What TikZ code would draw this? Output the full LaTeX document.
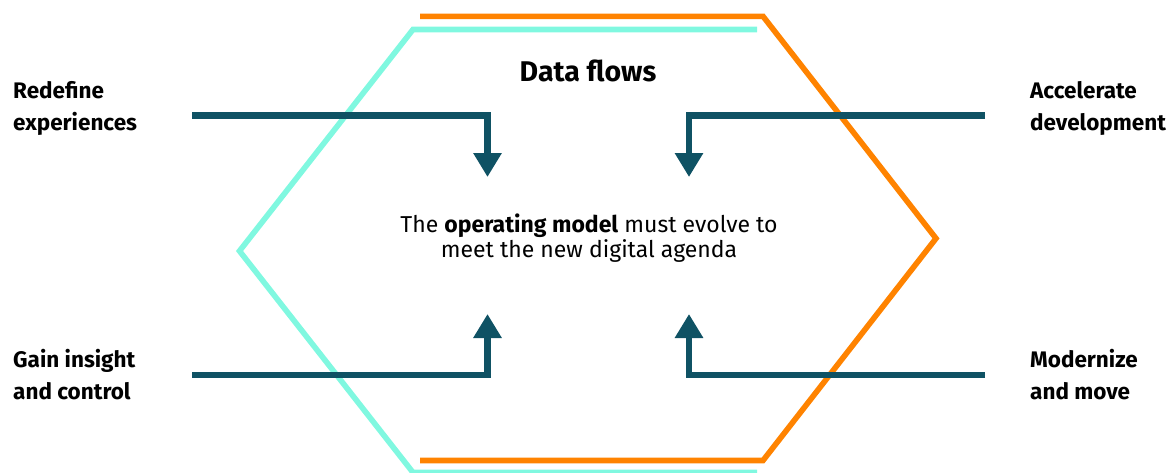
\documentclass[tikz,border=0pt]{standalone}
\usepackage{fontspec}
\setmainfont{Fira Sans}
\usetikzlibrary{arrows.meta}
\definecolor{hpeorange}{HTML}{FF8300}
\definecolor{hpeaqua}{HTML}{80F8E0}
\definecolor{flowteal}{HTML}{0F5264}
\tikzset{
  hexline/.style={line width=5.6pt, line join=miter},
  flowarrow/.style={draw=flowteal, line width=6.6pt, line join=miter,
    -{Triangle[length=24pt,width=27pt]}},
  sidelabel/.style={font=\fontsize{22.5}{32}\selectfont\bfseries, align=left,
    inner sep=0pt, anchor=base west, text=black},
}
\begin{document}
\begin{tikzpicture}[x=1pt,y=-1pt]
  \useasboundingbox (0,0) rectangle (1173,472);

  % aqua half-hexagon (left)
  \draw[hexline, hpeaqua] (757,29.5) -- (413,29.5) -- (239.5,251) -- (413,472.5) -- (757,472.5);
  % orange half-hexagon (right)
  \draw[hexline, hpeorange] (420,16.3) -- (763,16.3) -- (936,238.4) -- (763,460.5) -- (420,460.5);

  % title and central message (base anchor sits on the last line)
  \node[font=\fontsize{28.5}{30}\selectfont\bfseries, inner sep=0pt, anchor=base] (title) at (588,81) {Data flows};
  \node[font=\fontsize{23}{25}\selectfont, align=center, inner sep=0pt, anchor=base] (msg) at (589,257)
    {The \textbf{operating model} must evolve to\\meet the new digital agenda};

  % side labels
  \node[sidelabel] (l1) at (13,130) {Redefine\\experiences};
  \node[sidelabel] (l2) at (13,399) {Gain insight\\and control};
  \node[sidelabel] (r1) at (1030,130) {Accelerate\\development};
  \node[sidelabel] (r2) at (1030,399) {Modernize\\and move};

  % arrow end points
  \coordinate (a1s) at (192,115.5);
  \coordinate (a1t) at (487.5,177);
  \coordinate (a2s) at (192,375);
  \coordinate (a2t) at (487.5,314);
  \coordinate (a3s) at (985,115.5);
  \coordinate (a3t) at (689,177);
  \coordinate (a4s) at (985,375);
  \coordinate (a4t) at (689,314);

  \draw[flowarrow] (a1s) -| (a1t);
  \draw[flowarrow] (a2s) -| (a2t);
  \draw[flowarrow] (a3s) -| (a3t);
  \draw[flowarrow] (a4s) -| (a4t);
\end{tikzpicture}
\end{document}
